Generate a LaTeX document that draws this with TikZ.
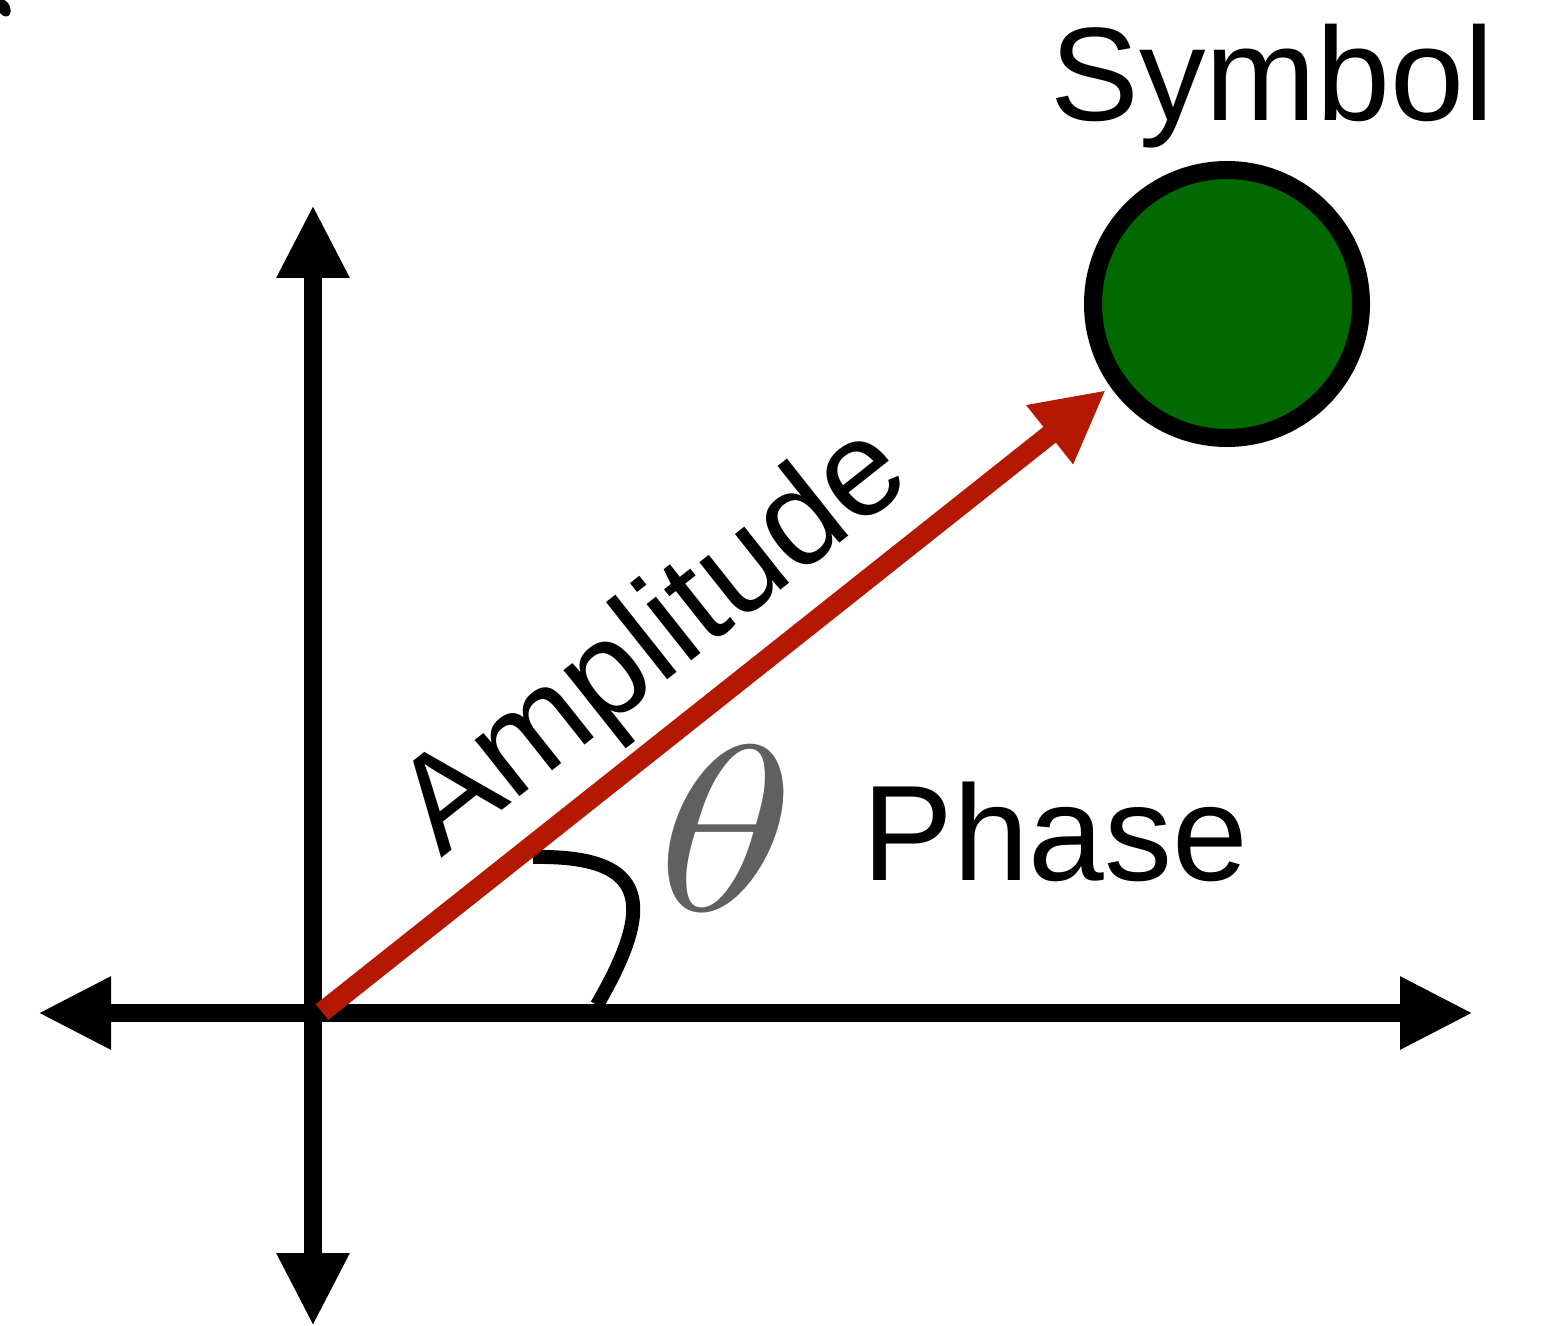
\documentclass[tikz,border=0pt]{standalone}
\usepackage{fontspec}
\newfontfamily\labelfont{Liberation Sans}
\usetikzlibrary{arrows.meta}
\definecolor{ampred}{RGB}{181,24,0}
\definecolor{symgreen}{RGB}{0,106,0}
\definecolor{thetagray}{RGB}{96,96,96}
\tikzset{
  axisline/.style={line width=9pt, line cap=butt, {Triangle[length=36.5pt,width=34pt]}-{Triangle[length=36.5pt,width=34pt]}},
  amparrow/.style={draw=ampred, line width=10pt, line cap=butt, -{Triangle[length=36pt,width=35pt]}, ampred},
  symbolpt/.style={circle, draw=black, fill=symgreen, line width=9pt, minimum size=134pt, inner sep=0pt},
  biglabel/.style={font=\labelfont\fontsize{68}{80}\selectfont, inner sep=0pt},
  anglearc/.style={line width=7pt, line cap=butt}
}
\begin{document}
\begin{tikzpicture}[x=0.5pt, y=-0.5pt]
  \useasboundingbox (0,0) rectangle (1551,1326);
  % small blob at top-left corner
  \fill[rotate around={25:(4,8)}] (4,8) ellipse [x radius=3pt, y radius=4.5pt];
  % axis end points
  \coordinate (xl) at (38,1013);
  \coordinate (xr) at (1473,1013);
  \coordinate (yt) at (313,205);
  \coordinate (yb) at (313,1326);
  \coordinate (o) at (322,1012);
  \coordinate (tip) at (1106,390);
  \coordinate (arcs) at (533,857);
  \coordinate (arce) at (597,1005);
  % axes
  \draw[axisline] (xl) -- (xr);
  \draw[axisline] (yb) -- (yt);
  % angle arc
  \draw[anglearc] (arcs) .. controls (650,855) and (655,905) .. (arce);
  % amplitude vector
  \draw[amparrow] (o) -- (tip);
  % symbol
  \node[symbolpt] (sym) at (1227,304) {};
  \node[biglabel, anchor=base west, font=\labelfont\fontsize{66.5}{80}\selectfont] (symlabel) at (1050,121) {Symbol};
  % labels
  \node[biglabel, anchor=base west, rotate=38.4] (amplabel) at (441,859) {Amplitude};
  \node[biglabel, anchor=base west] (phaselabel) at (862,880) {Phase};
  \node[inner sep=0pt, text=thetagray] (theta) at (726,829) {\scalebox{14}[11.8]{$\theta$}};
\end{tikzpicture}
\end{document}
